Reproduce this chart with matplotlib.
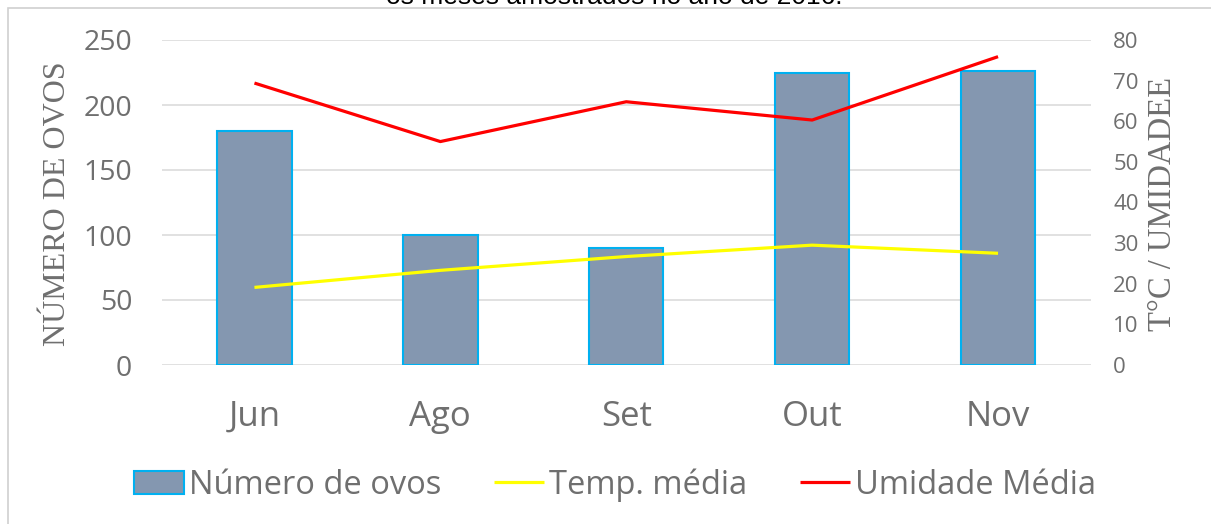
import matplotlib
matplotlib.use("Agg")
import matplotlib.pyplot as plt
from matplotlib.patches import Rectangle

categories = ["Jun", "Ago", "Set", "Out", "Nov"]
ovos = [180, 100, 90, 225, 226]
temp_media = [19.1, 23.3, 26.7, 29.5, 27.5]
umidade_media = [69.4, 55.0, 64.8, 60.3, 75.9]
left_ticks = [0, 50, 100, 150, 200, 250]
right_ticks = [0, 10, 20, 30, 40, 50, 60, 70, 80]

W, H = 1211, 524
fig = plt.figure(figsize=(W / 100, H / 100), dpi=100)
fig.patch.set_facecolor("white")

grey = "#6f6f6f"
sans = "Open Sans"
serif = "Liberation Serif"

ax = fig.add_axes([161.5 / W, 1 - 365 / H, (1091 - 161.5) / W, (365 - 40) / H])
ax2 = ax.twinx()

x = list(range(len(categories)))
bars = ax.bar(x, ovos, width=0.40, color="#8497B0", edgecolor="#00B0F0",
              linewidth=1.5, label="Número de ovos", zorder=2)
ax.set_xlim(-0.5, len(categories) - 0.5)
ax.set_ylim(0, 250)
ax.set_yticks(left_ticks)
ax.grid(axis="y", color="#d9d9d9", linewidth=1.1, zorder=0)
ax.set_axisbelow(True)
ax.set_xticks(x)
ax.set_xticklabels(categories, fontfamily=sans, fontsize=25, color=grey)
ax.tick_params(axis="x", length=0, pad=25)
ax.tick_params(axis="y", length=0, pad=21, labelsize=20.5, labelcolor=grey)
for lab in ax.get_yticklabels():
    lab.set_fontfamily(sans)
for s in ax.spines.values():
    s.set_visible(False)

l1, = ax2.plot(x, temp_media, color="#FFFF00", linewidth=2.3, label="Temp. média",
               solid_capstyle="butt", zorder=3)
l2, = ax2.plot(x, umidade_media, color="#FF0000", linewidth=2.3, label="Umidade Média",
               solid_capstyle="butt", zorder=3)
ax2.set_ylim(0, 80)
ax2.set_yticks(right_ticks)
ax2.tick_params(axis="y", length=0, pad=16, labelsize=16, labelcolor=grey)
for lab in ax2.get_yticklabels():
    lab.set_fontfamily(sans)
for s in ax2.spines.values():
    s.set_visible(False)

fig.text(58 / W, 1 - 204 / H, "NÚMERO DE OVOS", rotation=90, ha="center", va="center",
         fontfamily=serif, fontsize=23, color=grey)
fig.text(1163 / W, 1 - 204 / H, "T°C / UMIDADEE", rotation=90, ha="center", va="center",
         fontfamily=serif, fontsize=23.5, color=grey)

# partially visible caption above the chart frame
fig.text(614 / W, 1 - 4 / H, "os meses amostrados no ano de 2016.", ha="center",
         va="baseline", fontfamily="Liberation Sans", fontsize=19, color="black")

# chart frame (extends beyond right/bottom edges)
fig.patches.append(Rectangle((8 / W, -0.1), 1.2, 1 - 8 / H + 0.1,
                             transform=fig.transFigure, fill=False,
                             edgecolor="#d0d0d0", linewidth=1.2))

leg = fig.legend([bars, l1, l2], ["Número de ovos", "Temp. média", "Umidade Média"],
                 loc="center", bbox_to_anchor=(615 / W, 1 - 485 / H), ncol=3,
                 frameon=False, prop={"family": sans, "size": 23.5},
                 handlelength=1.55, handletextpad=0.15, columnspacing=1.6)
for t in leg.get_texts():
    t.set_color(grey)

fig.savefig("out.png", dpi=100, facecolor="white")
